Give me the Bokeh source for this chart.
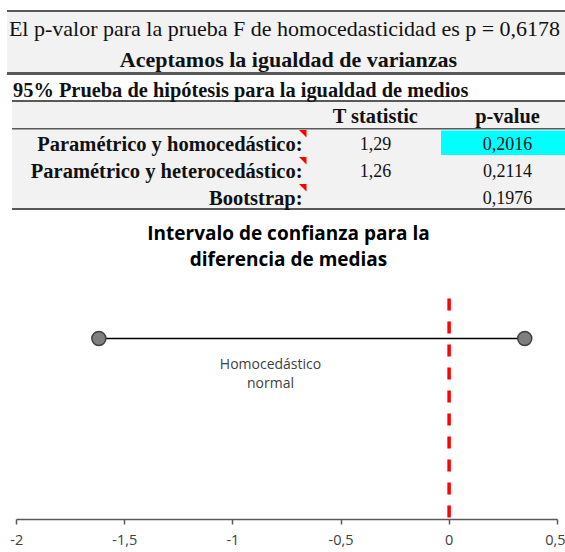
from bokeh.plotting import figure
from bokeh.models import Range1d, FixedTicker
from bokeh.layouts import column
from bokeh.embed import file_html
from bokeh.resources import INLINE
from bokeh.core.properties import value

# ---------------- data ----------------
f_test_p = "0,6178"
f_line = "El p-valor para la prueba F de homocedasticidad es p = " + f_test_p
f_conclusion = "Aceptamos la igualdad de varianzas"
section_title = "95% Prueba de hipótesis para la igualdad de medios"
col_headers = ["T statistic", "p-value"]
row_labels = ["Paramétrico y homocedástico:", "Paramétrico y heterocedástico:", "Bootstrap:"]
t_stats = ["1,29", "1,26", ""]
p_values = ["0,2016", "0,2114", "0,1976"]
highlight_row = 0

chart_title = ["Intervalo de confianza para la", "diferencia de medias"]
ci_label = ["Homocedástico", "normal"]
ci_lower = -1.62
ci_upper = 0.35
null_value = 0.0
x_ticks = [-2, -1.5, -1, -0.5, 0, 0.5]
x_tick_labels = ["-2", "-1,5", "-1", "-0,5", "0", "0,5"]

# ---------------- layout constants ----------------
W = 565
TBL_H = 212
AXIS_Y = 519
SERIF = value("Liberation Serif")
SANS = value("Open Sans")
LINE_C = "#595959"
BG = "#f2f2f2"
TXT = "#111111"

# ---------------- table figure (window pixel coordinates) ----------------
tbl = figure(width=W, height=TBL_H, x_range=Range1d(0, W), y_range=Range1d(TBL_H, 0),
             output_backend="svg", toolbar_location=None, min_border=0,
             x_axis_location=None, y_axis_location=None, outline_line_color=None,
             background_fill_color="white", border_fill_color="white")
tbl.xgrid.visible = False
tbl.ygrid.visible = False

# backgrounds
tbl.quad(left=[6.5, 11.5], right=[W, W], top=[11, 101], bottom=[72, 208],
         fill_color=BG, line_color=None)
hy = 130 + 26.8 * highlight_row
tbl.quad(left=[440.5], right=[W], top=[hy], bottom=[hy + 24.5], fill_color="#00ffff", line_color=None)

# rules
tbl.segment(x0=[6.5, 6.5, 11.5, 11.5, 11.5], x1=[W] * 5,
            y0=[10.5, 73, 100.5, 128.3, 208.5], y1=[10.5, 73, 100.5, 128.3, 208.5],
            line_color=LINE_C, line_width=[2, 3, 2, 1.5, 2])

# banner texts
tbl.text(x=[284], y=[27.5], text=[f_line], text_font=SERIF, text_font_size="22px",
         text_align="center", text_baseline="middle", text_color=TXT)
tbl.text(x=[288], y=[58.5], text=[f_conclusion], text_font=SERIF, text_font_size="22px",
         text_font_style="bold", text_align="center", text_baseline="middle", text_color=TXT)
tbl.text(x=[12.5], y=[89.5], text=[section_title], text_font=SERIF, text_font_size="20.4px",
         text_font_style="bold", text_align="left", text_baseline="middle", text_color=TXT)

# header
col_x = [375, 507]
tbl.text(x=col_x, y=[115.5, 115.5], text=col_headers, text_font=SERIF, text_font_size="20.4px",
         text_font_style="bold", text_align="center", text_baseline="middle", text_color=TXT)

row_y = [143, 170, 197]
tbl.text(x=[302] * 3, y=row_y, text=row_labels, text_font=SERIF, text_font_size="20.5px",
         text_font_style="bold", text_align="right", text_baseline="middle", text_color=TXT)
tbl.text(x=[col_x[0]] * 3, y=row_y, text=t_stats, text_font=SERIF, text_font_size="18px",
         text_align="center", text_baseline="middle", text_color=TXT)
tbl.text(x=[col_x[1]] * 3, y=row_y, text=p_values, text_font=SERIF, text_font_size="18px",
         text_align="center", text_baseline="middle", text_color=TXT)

# comment markers
xs, ys = [], []
for ry in row_y:
    top = ry - 13.5
    xs.append([298.5, 306, 306])
    ys.append([top, top, top + 7.5])
tbl.patches(xs=xs, ys=ys, fill_color="red", line_color=None)

# ---------------- chart figure ----------------
scale = 216.2
x0_px = 16.2
FRAME_H = AXIS_Y - TBL_H
ch = figure(frame_width=W, frame_height=FRAME_H,
            x_range=Range1d(-2 - x0_px / scale, -2 + (W - x0_px) / scale),
            y_range=Range1d(0, 1),
            output_backend="svg", toolbar_location=None,
            min_border_left=0, min_border_right=0, min_border_top=0, min_border_bottom=0,
            y_axis_location=None, outline_line_color=None)
ch.xgrid.visible = False
ch.ygrid.visible = False

ax = ch.xaxis[0]
ax.ticker = FixedTicker(ticks=x_ticks, minor_ticks=[])
ax.major_label_overrides = dict(zip(x_ticks, x_tick_labels))
ax.bounds = (min(x_ticks), max(x_ticks))
ax.axis_line_color = LINE_C
ax.axis_line_width = 1.5
ax.major_tick_line_color = LINE_C
ax.major_tick_line_width = 1.5
ax.major_tick_in = 0
ax.major_tick_out = 5
ax.minor_tick_line_color = None
ax.major_label_text_font = "Open Sans"
ax.major_label_text_font_size = "14.5px"
ax.major_label_text_color = "#404040"
ax.major_label_standoff = 10


def ypx(py):
    return (AXIS_Y - py) / float(FRAME_H)


# title
title_x = -2 + (288 - x0_px) / scale
ch.text(x=[title_x] * 2, y=[ypx(232), ypx(258)], text=chart_title, text_font=SANS,
        text_font_size="19px", text_font_style="bold", text_align="center",
        text_baseline="middle", text_color="#000000")

# null line
ch.segment(x0=[null_value], y0=[ypx(298)], x1=[null_value], y1=[0],
           line_color="#ff0000", line_width=3.5, line_dash="12 11")

# interval
y_ci = ypx(338)
ch.segment(x0=[ci_lower], y0=[y_ci], x1=[ci_upper], y1=[y_ci], line_color="#000000", line_width=1.5)
ch.scatter(x=[ci_lower, ci_upper], y=[y_ci, y_ci], size=14, fill_color="#7f7f7f",
           line_color="#404040", line_width=1.5)

lab_x = -2 + (270 - x0_px) / scale
ch.text(x=[lab_x] * 2, y=[ypx(363), ypx(382)], text=ci_label, text_font=SANS,
        text_font_size="14px", text_align="center", text_baseline="middle", text_color="#404040")

layout = column(tbl, ch, spacing=0)
open("out.html", "w").write(file_html(layout, INLINE))
